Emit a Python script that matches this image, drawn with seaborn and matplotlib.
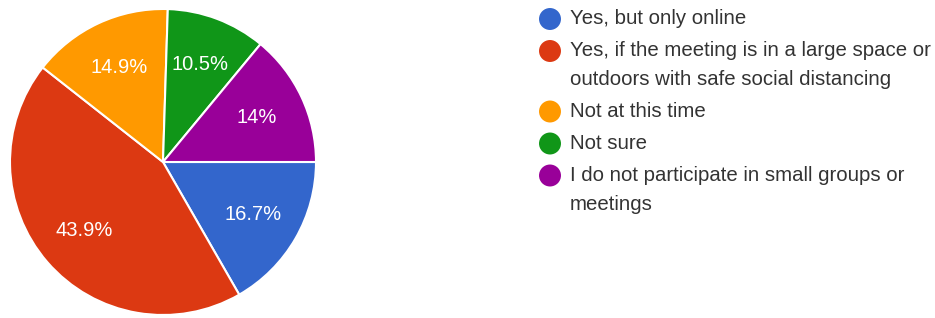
import matplotlib
matplotlib.use("Agg")
import matplotlib.pyplot as plt
import numpy as np
import seaborn as sns

labels = [
    "Yes, but only online",
    "Yes, if the meeting is in a large space or\noutdoors with safe social distancing",
    "Not at this time",
    "Not sure",
    "I do not participate in small groups or\nmeetings",
]
shares = [16.7, 43.9, 14.9, 10.5, 14.0]
pct_text = ["16.7%", "43.9%", "14.9%", "10.5%", "14%"]
colors = ["#3366cc", "#dc3912", "#ff9900", "#109618", "#990099"]

sns.set_theme(style="white")
plt.rcParams["font.family"] = ["Liberation Sans", "DejaVu Sans"]
palette = sns.color_palette(colors)

W, H = 935, 318
fig = plt.figure(figsize=(W / 100, H / 100), dpi=100)

# pie: centre (163, 162) px, radius 153 px
r = 153
ax = fig.add_axes([(163 - r) / W, (H - 162 - r) / H, 2 * r / W, 2 * r / H])
wedges, _ = ax.pie(
    shares, colors=palette, startangle=0, counterclock=False, radius=1,
    wedgeprops=dict(edgecolor="white", linewidth=1.5),
)
ax.set_xlim(-1, 1)
ax.set_ylim(-1, 1)
ax.set_aspect("equal")
ax.axis("off")

# percentage labels inside wedges
for w, txt in zip(wedges, pct_text):
    mid = np.deg2rad((w.theta1 + w.theta2) / 2)
    ax.text(0.68 * np.cos(mid), 0.68 * np.sin(mid), txt, ha="center", va="center",
            color="white", fontsize=14.5)

# legend in pixel coordinates
lg = fig.add_axes([0, 0, 1, 1])
lg.set_xlim(0, W)
lg.set_ylim(H, 0)
lg.axis("off")
y = 19
line_h = 28.5
gap = 32
for lab, c in zip(labels, palette):
    lg.scatter([550], [y], s=250, color=c, edgecolor="none")
    for i, line in enumerate(lab.split("\n")):
        lg.text(570, y + i * line_h, line, ha="left", va="center", fontsize=14.7,
                color="#333333")
    y += lab.count("\n") * line_h + gap

fig.savefig("out.png", dpi=100, facecolor="white")
